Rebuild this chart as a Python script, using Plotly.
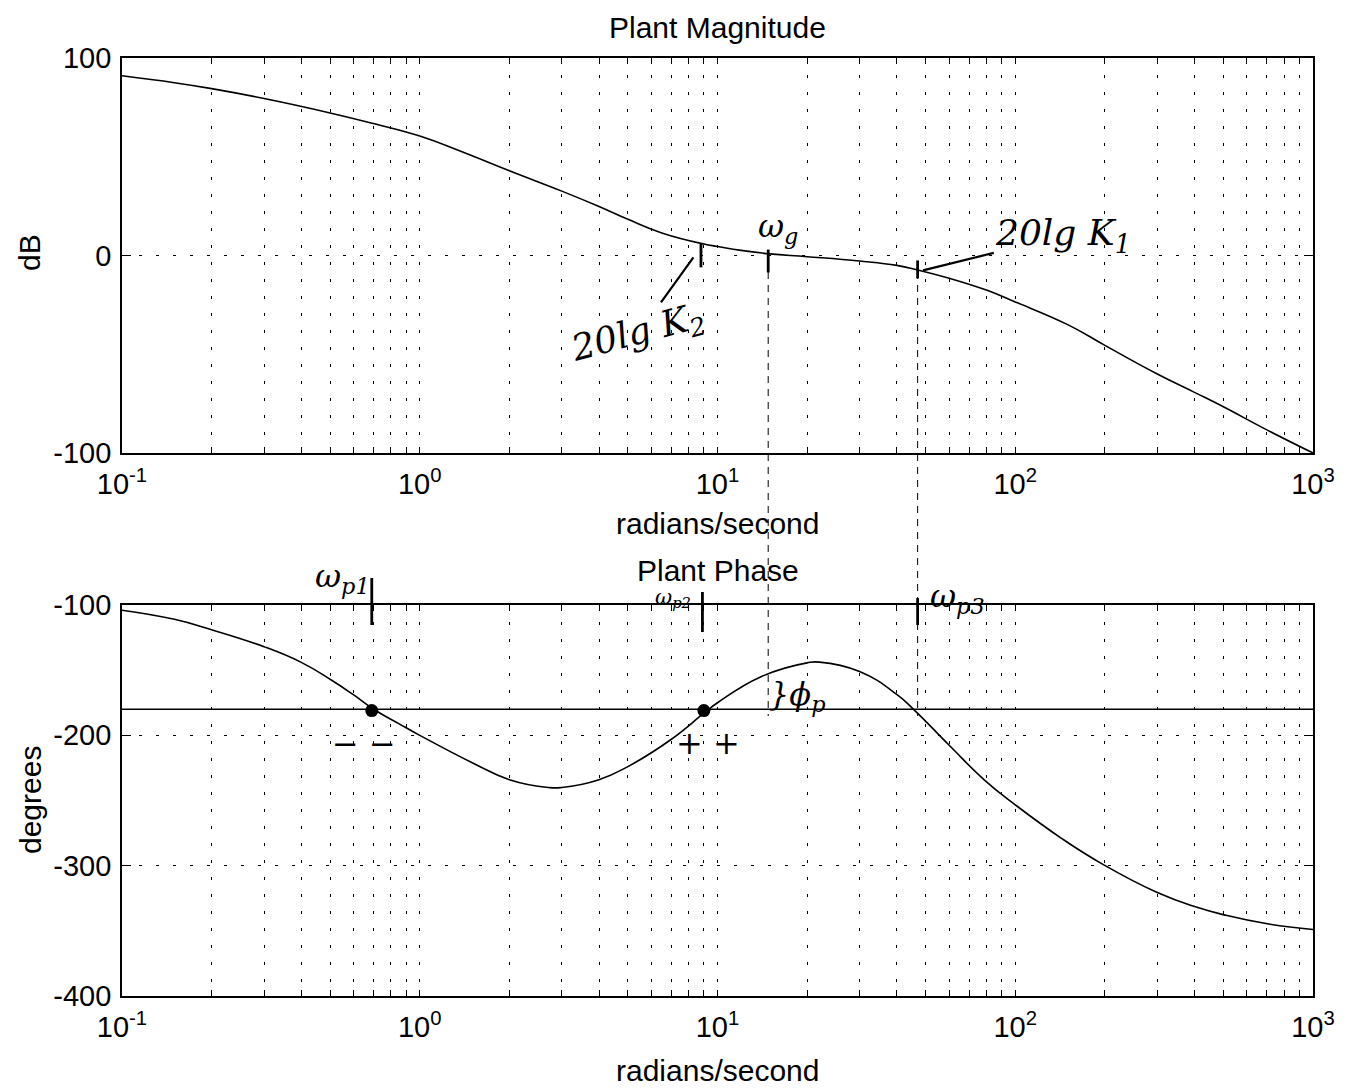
import plotly.graph_objects as go
from plotly.subplots import make_subplots
import math

# ---------------- data ----------------
mag_w = [0.1, 0.15, 0.2, 0.3, 0.5, 0.7, 1, 1.4, 2, 3, 4, 5, 6.5, 9, 10, 12, 15, 20, 30, 40, 47,
         60, 80, 100, 150, 200, 300, 400, 500, 700, 1000]
mag_db = [91, 87.5, 84.5, 79.5, 72.2, 66.8, 60.5, 52.3, 42.9, 32.6, 24.8, 18.3, 11.4, 5.8, 4.6, 2.6, 0.8, -0.6,
          -2.8, -5, -7.3, -11.5, -17.5, -23.5, -35, -45.5, -60, -69.3, -76.6, -88.3, -100]

ph_w = [0.1, 0.15, 0.2, 0.3, 0.4, 0.5, 0.6, 0.7, 0.85, 1, 1.5, 2, 2.7, 3, 4, 5, 7, 9, 10, 14, 20, 22, 30,
        40, 46, 60, 79, 100, 143, 197, 300, 400, 510, 710, 1000]
ph_deg = [-104, -111, -119, -132, -144, -157, -169, -180, -191, -200, -221, -234, -240, -240, -234, -224,
          -203, -183, -175, -155, -144.4, -143.8, -151, -168.6, -181, -207.6, -234.5, -253.3, -279, -299,
          -320.6, -331.4, -338.1, -344.8, -349]

ref_line_w = [0.1, 1000]
ref_line_deg = [-180, -180]

cross_w = [0.69, 9.0]          # phase crossings of -180 (marked dots)
cross_deg = [-181, -181]

w_g = 14.8                     # gain crossover
w_p1, w_p2, w_p3 = 0.69, 8.9, 47.0

x_tickvals = [0.1, 1, 10, 100, 1000]
x_ticktext = ["10<sup>-1</sup>", "10<sup>0</sup>", "10<sup>1</sup>", "10<sup>2</sup>", "10<sup>3</sup>"]
mag_ticks = [-100, 0, 100]
ph_ticks = [-400, -300, -200, -100]

# ---------------- layout constants ----------------
OFF = 8                              # default page body margin
W, H = 1361 - OFF, 1090 - OFF
ML, MR, MT, MB = 122 - OFF, 48, 58 - OFF, 94
ph_h = H - MT - MB                   # plot-area height in px
PLOT_BOTTOM = 996                    # page px of bottom of plotting area
PLOT_LEFT, PLOT_W = 122, W - ML - MR

top_dom = [(PLOT_BOTTOM - 453) / ph_h, 1.0]
bot_dom = [0.0, (PLOT_BOTTOM - 605) / ph_h]

FONT = "Liberation Sans, Arial, Helvetica, sans-serif"
HAND = "DejaVu Serif, serif"

fig = make_subplots(rows=2, cols=1)

fig.add_trace(go.Scatter(x=mag_w, y=mag_db, mode="lines",
                         line=dict(color="black", width=1.6, shape="spline", smoothing=1.3),
                         showlegend=False), row=1, col=1)
fig.add_trace(go.Scatter(x=ph_w, y=ph_deg, mode="lines",
                         line=dict(color="black", width=1.6, shape="spline", smoothing=1.3),
                         showlegend=False), row=2, col=1)
fig.add_trace(go.Scatter(x=ref_line_w, y=ref_line_deg, mode="lines", line=dict(color="black", width=1.6),
                         showlegend=False), row=2, col=1)
fig.add_trace(go.Scatter(x=cross_w, y=cross_deg, mode="markers", marker=dict(color="black", size=13),
                         showlegend=False), row=2, col=1)

# all grid positions (1..9 per decade)
grid_vals = []
for k in range(-1, 3):
    for m in range(1, 10):
        grid_vals.append(round(m * 10 ** k, 6))
grid_vals.append(1000)
grid_text = []
for v in grid_vals:
    if v in x_tickvals:
        grid_text.append(x_ticktext[x_tickvals.index(v)])
    else:
        grid_text.append("")

xcommon = dict(type="log", range=[-1, 3], tickvals=grid_vals, ticktext=grid_text,
               showgrid=True, gridcolor="black", griddash="3px,14px", gridwidth=1.3,
               ticks="inside", ticklen=6, tickcolor="black", tickwidth=1.2,
               showline=True, linecolor="black", linewidth=1.8, mirror="ticks",
               ticklabelstandoff=4,
               tickfont=dict(family=FONT, size=29, color="black"), zeroline=False)
fig.update_xaxes(**xcommon)
fig.update_xaxes(domain=[0, 1], row=1, col=1)
fig.update_xaxes(domain=[0, 1], row=2, col=1)

ycommon = dict(showgrid=True, gridcolor="black", griddash="3px,14px", gridwidth=1.3,
               ticks="inside", ticklen=9, tickcolor="black", tickwidth=1.2,
               showline=True, linecolor="black", linewidth=1.8, mirror="ticks",
               ticklabelstandoff=3,
               tickfont=dict(family=FONT, size=29, color="black"), zeroline=False)
fig.update_yaxes(**ycommon)
fig.update_yaxes(range=[-100, 100], tickvals=mag_ticks, ticktext=[str(v) for v in mag_ticks],
                 domain=top_dom, row=1, col=1)
fig.update_yaxes(range=[-400, -100], tickvals=ph_ticks, ticktext=[str(v) for v in ph_ticks],
                 domain=bot_dom, row=2, col=1)


def py(px):
    return (PLOT_BOTTOM - px) / ph_h


def px_x(px):
    return (px - PLOT_LEFT) / PLOT_W


def txt(text, x, y, **kw):
    d = dict(text=text, x=x, y=y, xref="paper", yref="paper", showarrow=False,
             xanchor="center", yanchor="middle", font=dict(family=FONT, size=30, color="black"))
    d.update(kw)
    return d


ann = []
# titles & axis labels
ann.append(txt("Plant Magnitude", 0.5, py(27)))
ann.append(txt("Plant Phase", 0.5, py(570)))
ann.append(txt("radians/second", 0.5, py(523)))
ann.append(txt("radians/second", 0.5, py(1070)))
ann.append(txt("dB", px_x(30), py(253), textangle=-90))
ann.append(txt("degrees", px_x(30), py(800), textangle=-90))

hf = dict(family=HAND, size=32, color="black")
hf_big = dict(family=HAND, size=36, color="black")
# handwritten notes on magnitude
ann.append(dict(text="<i>ω<sub>g</sub></i>", x=math.log10(16.0), y=14, xref="x", yref="y",
                showarrow=False, xanchor="center", yanchor="middle", font=hf))
ann.append(dict(text="<i>20lg K<sub>1</sub></i>", x=math.log10(49), y=-7.5, xref="x", yref="y",
                ax=math.log10(145), ay=10, axref="x", ayref="y",
                showarrow=True, arrowhead=0, arrowwidth=2.2, arrowcolor="black",
                xanchor="center", yanchor="middle", font=hf_big))
ann.append(dict(text="<i>20lg K<sub>2</sub></i>", x=math.log10(8.3), y=-1, xref="x", yref="y",
                ax=math.log10(5.4), ay=-40, axref="x", ayref="y",
                showarrow=True, arrowhead=0, arrowwidth=2.2, arrowcolor="black",
                textangle=-15, xanchor="center", yanchor="middle", font=hf_big))
# phase notes (above the axes -> x data / y paper)
ann.append(dict(text="<i>ω<sub>p1</sub></i>", x=math.log10(0.55), y=py(578), xref="x2", yref="paper",
                showarrow=False, xanchor="center", yanchor="middle", font=hf))
ann.append(dict(text="<i>ω<sub>p2</sub></i>", x=math.log10(7.1), y=py(598), xref="x2", yref="paper",
                showarrow=False, xanchor="center", yanchor="middle", font=dict(family=HAND, size=21, color="black")))
ann.append(dict(text="<i>ω<sub>p3</sub></i>", x=math.log10(64), y=py(598), xref="x2", yref="paper",
                showarrow=False, xanchor="center", yanchor="middle", font=hf))
ann.append(dict(text="<i>}ϕ<sub>p</sub></i>", x=math.log10(18.5), y=-170, xref="x2", yref="y2",
                showarrow=False, xanchor="center", yanchor="middle", font=hf))
ann.append(dict(text="<i>− −</i>", x=math.log10(0.65), y=-207, xref="x2", yref="y2",
                showarrow=False, xanchor="center", yanchor="middle", font=hf))
ann.append(dict(text="<i>+ +</i>", x=math.log10(9.3), y=-206, xref="x2", yref="y2",
                showarrow=False, xanchor="center", yanchor="middle", font=hf))
fig.update_layout(annotations=ann)

shapes = []
# short hand-drawn tick marks on magnitude plot
for wv, a, b in [(8.8, 6, -6), (w_g, 3, -8.6), (w_p3, -2.5, -11.6)]:
    shapes.append(dict(type="line", xref="x", yref="y", x0=wv, x1=wv, y0=a, y1=b,
                       line=dict(color="black", width=2.8)))
# tick marks at the top of phase plot (extend beyond axes -> paper coords)
for wv, a, b in [(w_p1, 578, 625), (w_p2, 592, 632), (w_p3, 598, 625)]:
    shapes.append(dict(type="line", xref="x2", yref="paper", x0=wv, x1=wv, y0=py(a), y1=py(b),
                       line=dict(color="black", width=2.8)))
# dashed connector lines
for wv in [w_g, w_p3]:
    shapes.append(dict(type="line", xref="x", yref="paper", x0=wv, x1=wv, y0=py(272), y1=py(716),
                       line=dict(color="black", width=1, dash="7px,6px")))
fig.update_layout(shapes=shapes)

fig.update_layout(width=W, height=H, margin=dict(l=ML, r=MR, t=MT, b=MB),
                  paper_bgcolor="white", plot_bgcolor="white", showlegend=False)

fig.write_html("out.html")
